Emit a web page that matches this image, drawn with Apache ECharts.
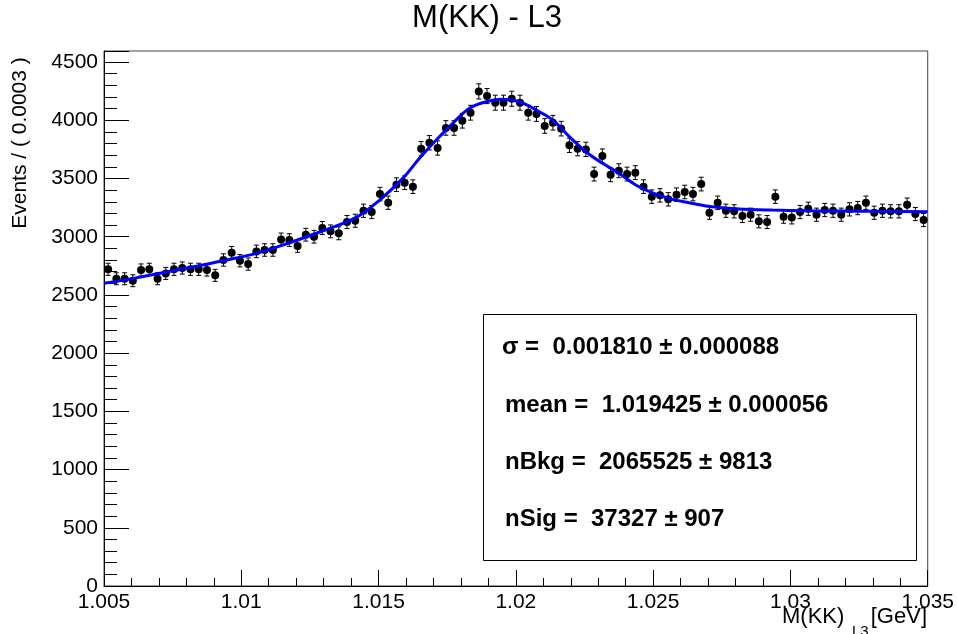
<!DOCTYPE html>
<html>
<head>
<meta charset="utf-8">
<title>M(KK) - L3</title>
<script src="https://cdn.jsdelivr.net/npm/echarts@6/dist/echarts.min.js"></script>
<style>
  html, body { margin: 0; padding: 0; background: #fff; }
  #chart { width: 957px; height: 634px; }
</style>
</head>
<body>
<div id="chart"></div>
<script>
// Histogram binning: 100 bins of 0.0003 GeV starting at 1.005 GeV
const binLow = 1.005;
const binWidth = 0.0003;

// Events per bin
const counts = [
  2720, 2639, 2639, 2622, 2714, 2720, 2639, 2685, 2720, 2731,
  2720, 2720, 2714, 2668, 2800, 2863, 2794, 2765, 2874, 2886,
  2886, 2977, 2971, 2920, 3017, 3000, 3075, 3046, 3029, 3126,
  3137, 3223, 3212, 3366, 3292, 3447, 3464, 3430, 3756, 3807,
  3762, 3934, 3934, 3996, 4065, 4248, 4208, 4151, 4151, 4185,
  4151, 4065, 4054, 3951, 3979, 3928, 3785, 3756, 3750, 3538,
  3693, 3532, 3567, 3538, 3550, 3430, 3344, 3355, 3321, 3361,
  3384, 3366, 3452, 3206, 3292, 3223, 3218, 3178, 3189, 3132,
  3126, 3344, 3172, 3166, 3212, 3240, 3189, 3229, 3223, 3189,
  3235, 3246, 3292, 3206, 3223, 3218, 3218, 3275, 3195, 3143
];

// Fitted model (signal + background), sampled along the mass range
const fitMass = [
  1.00500, 1.00607, 1.00788, 1.00934, 1.01055, 1.01176, 1.01298, 1.01419,
  1.01504, 1.01588, 1.01649, 1.01710, 1.01770, 1.01831, 1.01892, 1.01952,
  1.02013, 1.02074, 1.02134, 1.02195, 1.02255, 1.02316, 1.02376, 1.02440,
  1.02510, 1.02570, 1.02631, 1.02692, 1.02752, 1.02813, 1.02934, 1.03055,
  1.03176, 1.03298, 1.03500
];
const fitValue = [
  2600, 2642, 2725, 2794, 2857, 2948, 3051, 3166,
  3315, 3501, 3673, 3830, 3974, 4103, 4159, 4180,
  4159, 4088, 4002, 3859, 3730, 3630, 3544, 3440,
  3365, 3321, 3292, 3264, 3249, 3238, 3229, 3223,
  3221, 3218, 3215
];

// Axis ticks
const xTicks = [1.005, 1.010, 1.015, 1.020, 1.025, 1.030, 1.035];
const yTicks = [0, 500, 1000, 1500, 2000, 2500, 3000, 3500, 4000, 4500];

// Fit results shown in the parameter box
const fitParams = [
  'σ =  0.001810 ± 0.000088',
  'mean =  1.019425 ± 0.000056',
  'nBkg =  2065525 ± 9813',
  'nSig =  37327 ± 907'
];

const FONT = '"Liberation Sans", Arial, Helvetica, sans-serif';

const points = counts.map((c, i) => [binLow + binWidth * (i + 0.5), c, Math.sqrt(c)]);
const fitLine = fitMass.map((m, i) => [m, fitValue[i]]);

const chart = echarts.init(document.getElementById('chart'), null, { renderer: 'canvas' });

const option = {
  backgroundColor: '#ffffff',
  animation: false,
  grid: {
    left: 104, right: 28, top: 51, bottom: 48,
    show: true, borderColor: '#444', borderWidth: 1, backgroundColor: '#fff'
  },
  xAxis: {
    type: 'value',
    min: 1.005, max: 1.035, interval: 0.005,
    axisLine: { show: true, onZero: false, lineStyle: { color: '#000', width: 1 } },
    axisTick: { show: true, inside: true, length: 16, lineStyle: { color: '#000', width: 1 } },
    minorTick: { show: true, splitNumber: 5, length: 8, lineStyle: { color: '#000', width: 1 } },
    splitLine: { show: false },
    axisLabel: {
      margin: 6, color: '#000', fontFamily: FONT, fontSize: 21,
      formatter: v => {
        const hit = xTicks.find(t => Math.abs(t - v) < 1e-7);
        return hit === undefined ? '' : String(+hit.toFixed(3));
      }
    }
  },
  yAxis: {
    type: 'value',
    min: 0, max: 4595, interval: 500,
    axisLine: { show: true, onZero: false, lineStyle: { color: '#000', width: 1 } },
    axisTick: { show: true, inside: true, length: 25, lineStyle: { color: '#000', width: 1 } },
    minorTick: { show: true, splitNumber: 5, length: 13, lineStyle: { color: '#000', width: 1 } },
    splitLine: { show: false },
    axisLabel: {
      margin: 6, color: '#000', fontFamily: FONT, fontSize: 21,
      formatter: v => {
        const hit = yTicks.find(t => Math.abs(t - v) < 1e-6);
        return hit === undefined ? '' : String(hit);
      }
    }
  },
  series: [
    {
      // vertical error bars with small end caps
      type: 'custom',
      z: 2,
      data: points,
      renderItem: (params, api) => {
        const x = api.value(0), y = api.value(1), e = api.value(2);
        const top = api.coord([x, y + e]);
        const bot = api.coord([x, y - e]);
        const cap = 2.5;
        const st = { stroke: '#000', lineWidth: 1 };
        return {
          type: 'group',
          children: [
            { type: 'line', shape: { x1: top[0], y1: top[1], x2: bot[0], y2: bot[1] }, style: st },
            { type: 'line', shape: { x1: top[0] - cap, y1: top[1], x2: top[0] + cap, y2: top[1] }, style: st },
            { type: 'line', shape: { x1: bot[0] - cap, y1: bot[1], x2: bot[0] + cap, y2: bot[1] }, style: st }
          ]
        };
      }
    },
    {
      type: 'scatter',
      z: 3,
      symbol: 'circle',
      symbolSize: 8,
      itemStyle: { color: '#000', opacity: 1 },
      data: points.map(p => [p[0], p[1]])
    },
    {
      type: 'line',
      z: 4,
      data: fitLine,
      smooth: 0.35,
      showSymbol: false,
      symbol: 'none',
      lineStyle: { color: '#0000ff', width: 3 }
    }
  ],
  graphic: [
    {
      type: 'text', x: 487, y: 18,
      style: { text: 'M(KK) - L3', font: 'normal 31px ' + FONT, fill: '#000', textAlign: 'center', textVerticalAlign: 'middle' }
    },
    {
      type: 'text', x: 20, y: 143, rotation: Math.PI / 2,
      style: { text: 'Events / ( 0.0003 )', font: 'normal 21px ' + FONT, fill: '#000', textAlign: 'center', textVerticalAlign: 'middle' }
    },
    {
      type: 'text', x: 782, y: 617,
      style: { text: 'M(KK)', font: 'normal 22px ' + FONT, fill: '#000', textAlign: 'left', textVerticalAlign: 'middle' }
    },
    {
      type: 'text', x: 852, y: 632,
      style: { text: 'L3', font: 'normal 15px ' + FONT, fill: '#000', textAlign: 'left', textVerticalAlign: 'middle' }
    },
    {
      type: 'text', x: 927, y: 617,
      style: { text: '[GeV]', font: 'normal 22px ' + FONT, fill: '#000', textAlign: 'right', textVerticalAlign: 'middle' }
    },
    {
      type: 'rect', z: 10,
      shape: { x: 483.5, y: 314.5, width: 433, height: 246 },
      style: { fill: '#fff', stroke: '#000', lineWidth: 1 }
    },
    ...fitParams.map((t, i) => ({
      type: 'text', z: 11,
      x: i === 0 ? 502 : 505,
      y: [347, 405, 462, 519][i],
      style: { text: t, font: 'bold 24px ' + FONT, fill: '#000', textAlign: 'left', textVerticalAlign: 'middle' }
    }))
  ]
};

chart.setOption(option);
</script>
</body>
</html>
